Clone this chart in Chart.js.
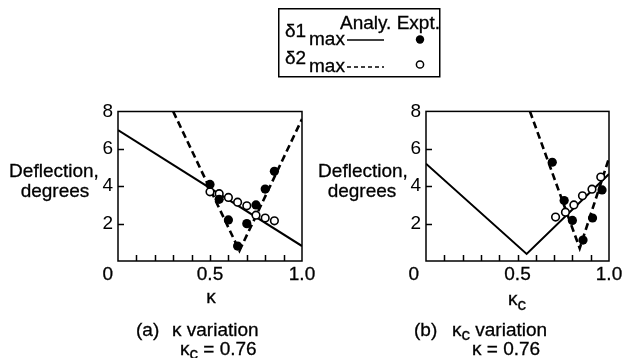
<!DOCTYPE html>
<html>
<head>
<meta charset="utf-8">
<script src="https://cdn.jsdelivr.net/npm/chart.js@4"></script>
<style>
  body { margin: 0; background: #fff; }
  #page { position: relative; width: 628px; height: 358px; overflow: hidden; font-family: "Liberation Sans", Arial, sans-serif; }
  canvas { position: absolute; }
  #notes { position: absolute; left: 0; top: 0; }
  #notes text { font-family: "Liberation Sans", Arial, sans-serif; font-size: 19px; fill: #000; stroke: #000; stroke-width: 0.3; }
</style>
</head>
<body>
<div id="page">
  <canvas id="kappa" width="330" height="195" style="left:0;top:95px"></canvas>
  <canvas id="kappac" width="314" height="195" style="left:314px;top:95px"></canvas>
  <svg id="notes" width="628" height="358">
    <!-- legend -->
    <rect x="278.75" y="8.75" width="161" height="68" fill="none" stroke="#000" stroke-width="1.5"/>
    <text x="340" y="28.5">Analy. Expt.</text>
    <text x="285" y="37">&#948;1</text><text x="309" y="45">max</text>
    <line x1="347" y1="40" x2="384" y2="40" stroke="#000" stroke-width="1.5"/>
    <circle cx="420" cy="39.5" r="4.2" fill="#000"/>
    <text x="285" y="64">&#948;2</text><text x="309" y="72">max</text>
    <line x1="347" y1="67" x2="384" y2="67" stroke="#000" stroke-width="1.5" stroke-dasharray="4,3"/>
    <circle cx="420" cy="64.5" r="3.6" fill="#fff" stroke="#000" stroke-width="1.5"/>

    <!-- axis titles -->
    <text x="54" y="177" text-anchor="middle">Deflection,</text>
    <text x="55" y="197" text-anchor="middle">degrees</text>
    <text x="363" y="177" text-anchor="middle">Deflection,</text>
    <text x="362" y="197" text-anchor="middle">degrees</text>
    <text x="211" y="303" text-anchor="middle">&#954;</text>
    <text x="508" y="305">&#954;<tspan dy="5" style="font-size:17px">c</tspan></text>

    <!-- captions -->
    <text x="136" y="336">(a)</text>
    <text x="172" y="336">&#954; variation</text>
    <text x="180" y="355">&#954;<tspan dy="4" style="font-size:17px">c</tspan><tspan dy="-4"> = 0.76</tspan></text>
    <text x="414" y="336">(b)</text>
    <text x="452" y="336">&#954;<tspan dy="4" style="font-size:17px">c</tspan><tspan dy="-4"> variation</tspan></text>
    <text x="472" y="355">&#954; = 0.76</text>
  </svg>
</div>
<script>
// (a) kappa variation, kappa_c = 0.76
const aLineX = [0, 1.0];
const aD1Analy = [7.0, 0.8];
const aD2AnalyX = [0.30, 0.66, 1.0];
const aD2Analy = [8.0, 0.55, 7.6];
const aExptX = [0.50, 0.55, 0.60, 0.65, 0.70, 0.75, 0.80, 0.85];
const aD1Expt = [4.1, 3.3, 2.2, 0.8, 2.0, 3.0, 3.85, 4.8];
const aD2Expt = [3.7, 3.6, 3.4, 3.15, 2.95, 2.45, 2.3, 2.15];

// (b) kappa_c variation, kappa = 0.76
const bD1AnalyX = [0, 0.55, 1.0];
const bD1Analy = [5.2, 0.38, 4.65];
const bD2AnalyX = [0.568, 0.84, 1.0];
const bD2Analy = [8.0, 0.68, 5.5];
const bD1ExptX = [0.69, 0.755, 0.80, 0.858, 0.91, 0.962];
const bD1Expt = [5.28, 3.23, 2.17, 1.12, 2.3, 3.8];
const bD2ExptX = [0.708, 0.762, 0.808, 0.855, 0.907, 0.955];
const bD2Expt = [2.35, 2.61, 3.0, 3.49, 3.84, 4.49];

const xTickValues = [0, 0.5, 1.0];
const xTickLabels = ['0', '0.5', '1.0'];
const yLabelled = [2, 4, 6, 8];

const FONT = '"Liberation Sans", Arial, sans-serif';

function pts(xs, ys) {
    return xs.map((x, i) => ({ x: x, y: ys[i] }));
}

// box round the plot, inward ticks and the x labels
const frame = {
    id: 'frame',
    afterDraw(chart, args, opts) {
        const ctx = chart.ctx;
        const a = chart.chartArea;
        const xs = chart.scales.x;
        const ys = chart.scales.y;
        ctx.save();
        ctx.strokeStyle = '#000';
        ctx.lineWidth = 1.5;
        ctx.strokeRect(a.left, a.top, a.right - a.left, a.bottom - a.top);
        ctx.beginPath();
        xs.ticks.forEach(t => {
            if (t.value <= 0.001 || t.value >= 0.999) return;
            let px = Math.round(xs.getPixelForValue(t.value)) + 0.5;
            ctx.moveTo(px, a.bottom);
            ctx.lineTo(px, a.bottom - 6);
        });
        ys.ticks.forEach(t => {
            if (t.value <= 0 || t.value >= 8) return;
            let py = Math.round(ys.getPixelForValue(t.value)) + 0.5;
            ctx.moveTo(a.left, py);
            ctx.lineTo(a.left + 6, py);
        });
        ctx.stroke();

        ctx.font = '19px ' + FONT;
        ctx.fillStyle = '#000';
        ctx.strokeStyle = '#000';
        ctx.lineWidth = 0.3;
        ctx.textBaseline = 'middle';
        xTickValues.forEach((v, i) => {
            let px = xs.getPixelForValue(v);
            if (v === 0) {
                // origin label sits clear of the corner
                ctx.textAlign = 'right';
                px -= opts.zeroGap;
            } else {
                ctx.textAlign = 'center';
            }
            ctx.fillText(xTickLabels[i], px, a.bottom + 14);
            ctx.strokeText(xTickLabels[i], px, a.bottom + 14);
        });
        ctx.restore();
    }
};

function makeChart(id, sets, pad, yWidth, zeroGap) {
    const ctx = document.getElementById(id).getContext('2d');
    const datasets = [
        {
            data: sets.d1Expt, showLine: false, order: 0,
            pointRadius: 4.6, pointBackgroundColor: '#000', pointBorderColor: '#000', pointBorderWidth: 0
        },
        {
            data: sets.d2Expt, showLine: false, order: 0,
            pointRadius: 3.8, pointBackgroundColor: '#fff', pointBorderColor: '#000', pointBorderWidth: 1.6
        },
        {
            data: sets.d1Analy, showLine: true, order: 1, borderColor: '#000', borderWidth: 2,
            pointRadius: 0, tension: 0, fill: false
        },
        {
            data: sets.d2Analy, showLine: true, order: 1, borderColor: '#000', borderWidth: 2.6, borderDash: [7, 4],
            pointRadius: 0, tension: 0, fill: false
        }
    ];

    return new Chart(ctx, {
        type: 'scatter',
        data: { datasets: datasets },
        options: {
            responsive: false,
            animation: false,
            devicePixelRatio: 1,
            layout: { padding: pad },
            plugins: { legend: { display: false }, tooltip: { enabled: false }, frame: { zeroGap: zeroGap } },
            scales: {
                x: {
                    type: 'linear', min: 0, max: 1,
                    ticks: { stepSize: 0.1, display: false },
                    grid: { display: false },
                    border: { display: false },
                    afterFit: s => { s.height = 29; }
                },
                y: {
                    min: 0, max: 8,
                    ticks: {
                        stepSize: 1,
                        padding: 5,
                        color: '#000',
                        font: { family: FONT, size: 19 },
                        callback: v => yLabelled.includes(v) ? String(v) : ''
                    },
                    grid: { display: false, drawTicks: false },
                    border: { display: false },
                    afterFit: s => { s.width = yWidth; }
                }
            }
        },
        plugins: [frame]
    });
}

makeChart('kappa', {
    d1Analy: pts(aLineX, aD1Analy),
    d2Analy: pts(aD2AnalyX, aD2Analy),
    d1Expt: pts(aExptX, aD1Expt),
    d2Expt: pts(aExptX, aD2Expt)
}, { top: 16.5, right: 28, bottom: 0, left: 0 }, 118, 5);

makeChart('kappac', {
    d1Analy: pts(bD1AnalyX, bD1Analy),
    d2Analy: pts(bD2AnalyX, bD2Analy),
    d1Expt: pts(bD1ExptX, bD1Expt),
    d2Expt: pts(bD2ExptX, bD2Expt)
}, { top: 14, right: 19, bottom: 0, left: 0 }, 112, 7);
</script>
</body>
</html>
